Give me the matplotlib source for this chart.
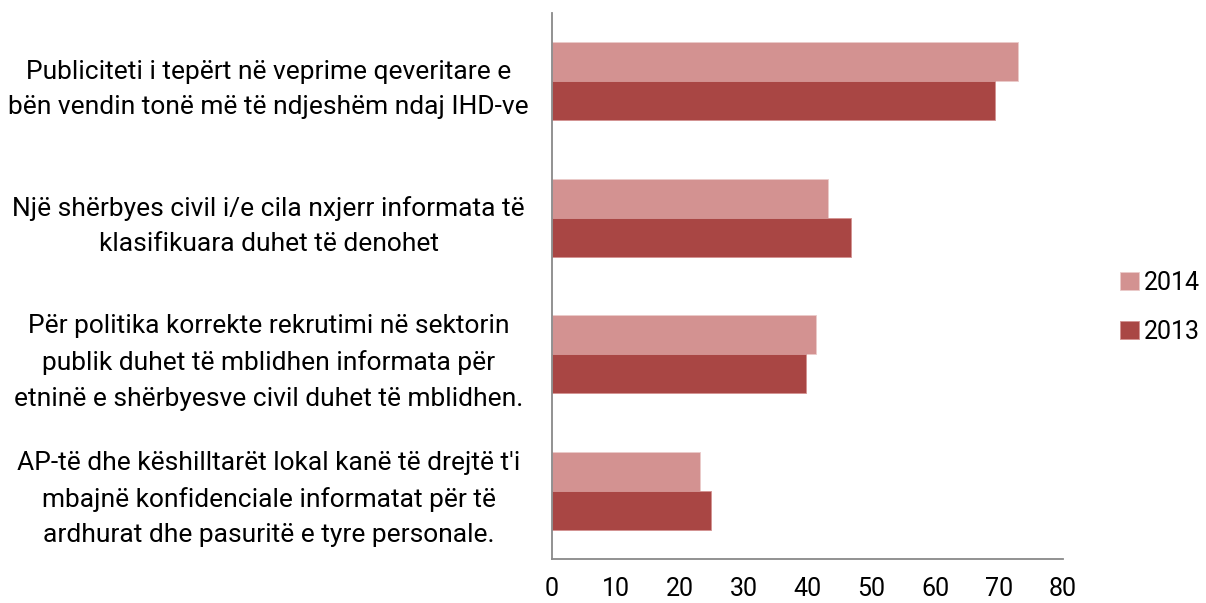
import matplotlib.pyplot as plt
import numpy as np

kategorite = [
    "Publiciteti i tepërt në veprime qeveritare e\nbën vendin tonë më të ndjeshëm ndaj IHD-ve",
    "Një shërbyes civil i/e cila nxjerr informata të\nklasifikuara duhet të denohet",
    "Për politika korrekte rekrutimi në sektorin\npublik duhet të mblidhen informata për\netninë e shërbyesve civil duhet të mblidhen.",
    "AP-të dhe këshilltarët lokal kanë të drejtë t'i\nmbajnë konfidenciale informatat për të\nardhurat dhe pasuritë e tyre personale.",
]
viti_2014 = [73, 43.2, 41.3, 23.2]
viti_2013 = [69.4, 46.8, 39.8, 24.9]
xticks = [0, 10, 20, 30, 40, 50, 60, 70, 80]

plt.rcParams['font.family'] = ['Roboto', 'DejaVu Sans']

fig = plt.figure(figsize=(12.06, 6.03), dpi=100)
ax = fig.add_axes([0.4577, 0.073, 0.4237, 0.905])

y = np.arange(len(kategorite))
h = 0.286
ax.barh(y - h / 2, viti_2014, height=h, color='#D39291', edgecolor='#EBCBCA',
        linewidth=0.6, label='2014')
ax.barh(y + h / 2, viti_2013, height=h, color='#A94644', edgecolor='#D39291',
        linewidth=0.6, label='2013')

ax.set_ylim(3.5, -0.5)
ax.set_xlim(0, 80)
ax.set_xticks(xticks)
ax.set_xticklabels([str(v) for v in xticks], fontsize=18)
ax.set_yticks(y)
ax.set_yticklabels(kategorite, fontsize=19, ha='center', linespacing=1.6)
ax.tick_params(axis='y', length=0, pad=204)
ax.tick_params(axis='x', length=0, pad=13)

for s in ['top', 'right']:
    ax.spines[s].set_visible(False)
for s in ['left', 'bottom']:
    ax.spines[s].set_color('#898989')
    ax.spines[s].set_linewidth(1.3)

fig.legend(loc='center left', bbox_to_anchor=(0.9287, 0.49), frameon=False,
           fontsize=18, handlelength=0.75, handleheight=0.75, borderpad=0,
           handletextpad=0.2, labelspacing=1.0, borderaxespad=0)

fig.savefig('out.png', dpi=100)
